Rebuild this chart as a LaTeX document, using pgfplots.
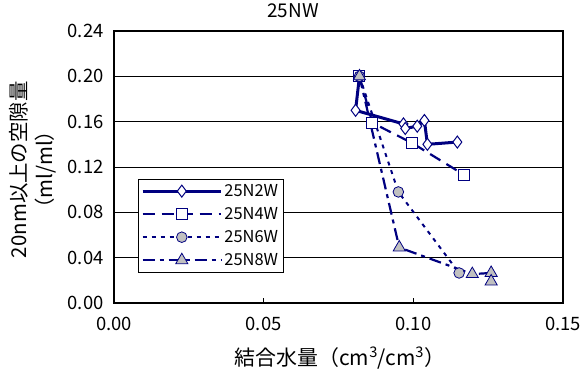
\documentclass[border=0pt]{standalone}
\usepackage{fontspec}
\setmainfont{Noto Sans CJK JP}
\usepackage{pgfplots}
\pgfplotsset{compat=1.18}
\definecolor{navyc}{RGB}{0,0,128}
\definecolor{silverc}{RGB}{192,192,192}
\begin{document}
\begin{tikzpicture}
\path[use as bounding box] (-114bp,-71bp) rectangle (468bp,303bp);
\begin{axis}[
  at={(0,0)}, anchor=south west,
  scale only axis, width=449bp, height=272bp,
  xmin=0, xmax=0.15, ymin=0, ymax=0.24,
  xtick={0,0.05,0.1,0.15}, ytick={0,0.04,...,0.24},
  /pgf/number format/assume math mode=true,
  /pgf/number format/.cd, fixed, fixed zerofill, precision=2, /pgfplots/.cd,
  scaled ticks=false,
  tick pos=left, tick align=inside, major tick length=5bp,
  tick style={black, line width=0.8bp},
  ymajorgrids, grid style={black, line width=0.8bp},
  axis line style={black, line width=2.5bp},
  ticklabel style={font=\fontsize{18.5}{20}\selectfont},
  yticklabel style={xshift=-7bp},
  xticklabel style={yshift=-11bp},
  title={25NW},
  title style={at={(axis description cs:0.399,1.052)}, anchor=center, font=\fontsize{19}{21}\selectfont},
  xlabel={結合水量（cm\textsuperscript{3}/cm\textsuperscript{3}）},
  xlabel style={at={(axis description cs:0.503,-0.203)}, anchor=center, font=\fontsize{21}{22}\selectfont},
  ylabel={20nm以上の空隙量\\（ml/ml）},
  ylabel style={at={(axis description cs:-0.18,0.49)}, anchor=center, align=center, font=\fontsize{20.5}{26}\selectfont},
  legend style={at={(axis description cs:0.053,0.456)}, anchor=north west, draw=black, line width=0.8bp,
    font=\fontsize{16.5}{18}\selectfont, row sep=5.5bp, inner sep=3bp,
    cells={anchor=west}},
  legend image code/.code={\draw[mark repeat=2,mark phase=2,#1] plot coordinates {(0cm,0cm) (1.38cm,0cm) (2.76cm,0cm)};},
]
\addplot[navyc, line width=3bp, mark=diamond*, mark size=6bp,
  mark options={fill=white, draw=navyc, line width=1bp, solid}]
  coordinates {(0.082,0.200) (0.0807,0.170) (0.0967,0.158) (0.0973,0.154) (0.1013,0.156) (0.1037,0.161) (0.1047,0.140) (0.1147,0.142)};
\addlegendentry{25N2W}
\addplot[navyc, line width=2.2bp, dash pattern=on 12bp off 7bp, mark=square*, mark size=5.5bp,
  mark options={fill=white, draw=navyc, line width=1bp, solid}]
  coordinates {(0.082,0.200) (0.0863,0.159) (0.0997,0.141) (0.117,0.113)};
\addlegendentry{25N4W}
\addplot[navyc, line width=2bp, dash pattern=on 4bp off 5bp, mark=*, mark size=5.3bp,
  mark options={fill=silverc, draw=navyc, line width=0.8bp, solid}]
  coordinates {(0.082,0.200) (0.095,0.098) (0.1153,0.0265)};
\addlegendentry{25N6W}
\addplot[navyc, line width=2.2bp, dash pattern=on 12bp off 5bp on 4bp off 5bp, mark=triangle*, mark size=7bp,
  mark options={fill=silverc, draw=navyc, line width=0.8bp, solid}]
  coordinates {(0.082,0.200) (0.0953,0.049) (0.1197,0.0255) (0.126,0.0265) (0.126,0.019)};
\addlegendentry{25N8W}
\end{axis}
\end{tikzpicture}
\end{document}
